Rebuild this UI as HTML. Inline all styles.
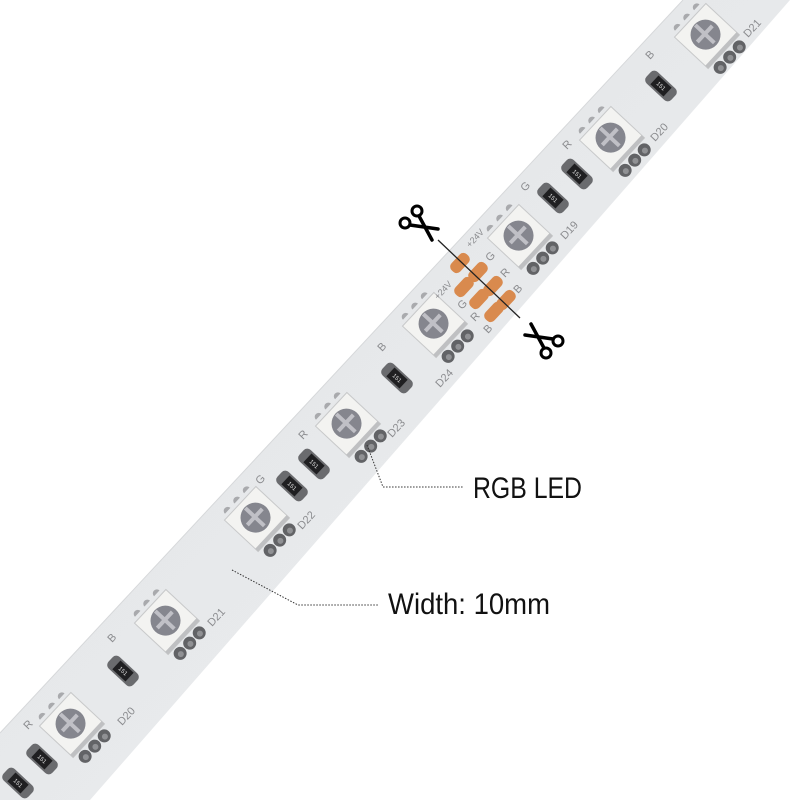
<!DOCTYPE html>
<html><head><meta charset="utf-8"><style>
html,body{margin:0;padding:0;background:#fff;}
svg{display:block;}
text{font-family:"Liberation Sans",sans-serif;}
</style></head><body>
<svg width="800" height="800" viewBox="0 0 800 800" xmlns="http://www.w3.org/2000/svg">
<defs>
<linearGradient id="sg" x1="0" y1="0" x2="1" y2="1">
<stop offset="0" stop-color="#e2e4e6"/><stop offset="1" stop-color="#eceef0"/>
</linearGradient>
<g id="led">
  <rect x="-23" y="-23" width="46" height="46" fill="#f3f3f1" stroke="#c8c9ca" stroke-width="1"/>
  <rect x="-23" y="19" width="46" height="4" fill="#bfc0c2"/>
  <circle cx="0" cy="-2" r="15" fill="#85868e"/>
  <rect x="-11" y="-5" width="22" height="4" fill="#c0c0c6"/>
  <rect x="-2" y="-16" width="4" height="26" fill="#c0c0c6"/>
  <circle cx="-14" cy="31" r="6.5" fill="#626366"/>
  <circle cx="0" cy="31" r="6.5" fill="#626366"/>
  <circle cx="14" cy="31" r="6.5" fill="#626366"/>
  <circle cx="-14" cy="32" r="3" fill="#909194"/>
  <circle cx="0" cy="32" r="3" fill="#909194"/>
  <circle cx="14" cy="32" r="3" fill="#909194"/>
  <path d="M-18,-27 a4,4 0 0 1 8,0 z M-4,-27 a4,4 0 0 1 8,0 z M10,-27 a4,4 0 0 1 8,0 z" fill="#a9aaad"/>
</g>
<g id="res">
  <rect x="-8" y="-17" width="16" height="34" rx="5" fill="#6a6b6e"/>
  <rect x="-6" y="-9" width="12" height="18" fill="#1f1f21"/>
  <text x="0" y="0" font-size="6" fill="#ddd" text-anchor="middle" transform="rotate(90) translate(0,2)">151</text>
</g>
<g id="sc" stroke="#000" fill="none">
  <circle cx="-3" cy="-13" r="5" stroke-width="3"/>
  <circle cx="-15" cy="-1" r="5" stroke-width="3"/>
  <path d="M-1,-8 L12,16" stroke-width="3.5" stroke-linecap="round"/>
  <path d="M-10,1 L18,5" stroke-width="3.5" stroke-linecap="round"/>
</g>
</defs>

<polygon points="683,0 790,0 90,800 0,800 0,733" fill="url(#sg)"/>
<line x1="683" y1="0" x2="0" y2="733" stroke="#d6d8da" stroke-width="1"/>

<!-- LEDs -->
<g transform="translate(707,36) rotate(-47)"><use href="#led"/></g>
<g transform="translate(612,139) rotate(-47)"><use href="#led"/></g>
<g transform="translate(520,237) rotate(-47)"><use href="#led"/></g>
<g transform="translate(435,325) rotate(-47)"><use href="#led"/></g>
<g transform="translate(348,425) rotate(-47)"><use href="#led"/></g>
<g transform="translate(257,519) rotate(-47)"><use href="#led"/></g>
<g transform="translate(167,622) rotate(-47)"><use href="#led"/></g>
<g transform="translate(72,725) rotate(-47)"><use href="#led"/></g>

<!-- resistors -->
<g transform="translate(661,86) rotate(-47)"><use href="#res"/></g>
<g transform="translate(577,174) rotate(-47)"><use href="#res"/></g>
<g transform="translate(553,198) rotate(-47)"><use href="#res"/></g>
<g transform="translate(397,378) rotate(-47)"><use href="#res"/></g>
<g transform="translate(314,464) rotate(-47)"><use href="#res"/></g>
<g transform="translate(292,486) rotate(-47)"><use href="#res"/></g>
<g transform="translate(123,671) rotate(-47)"><use href="#res"/></g>
<g transform="translate(42,759) rotate(-47)"><use href="#res"/></g>
<g transform="translate(18,783) rotate(-47)"><use href="#res"/></g>

<!-- labels on strip -->
<g font-size="11" fill="#8a8b8e">
<text transform="translate(748,38) rotate(-47)">D21</text>
<text transform="translate(655,142) rotate(-47)">D20</text>
<text transform="translate(565,240) rotate(-47)">D19</text>
<text transform="translate(440,388) rotate(-47)">D24</text>
<text transform="translate(392,438) rotate(-47)">D23</text>
<text transform="translate(302,530) rotate(-47)">D22</text>
<text transform="translate(212,627) rotate(-47)">D21</text>
<text transform="translate(122,726) rotate(-47)">D20</text>
<text transform="translate(650,60) rotate(-47)">B</text>
<text transform="translate(567,150) rotate(-47)">R</text>
<text transform="translate(525,192) rotate(-47)">G</text>
<text transform="translate(382,352) rotate(-47)">B</text>
<text transform="translate(303,440) rotate(-47)">R</text>
<text transform="translate(260,485) rotate(-47)">G</text>
<text transform="translate(112,643) rotate(-47)">B</text>
<text transform="translate(28,730) rotate(-47)">R</text>
<text transform="translate(470,248) rotate(-47)" font-size="9">+24V</text>
<text transform="translate(438,300) rotate(-47)" font-size="9">+24V</text>
<text transform="translate(490,262) rotate(-47)">G</text>
<text transform="translate(505,278) rotate(-47)">R</text>
<text transform="translate(518,294) rotate(-47)">B</text>
<text transform="translate(462,310) rotate(-47)">G</text>
<text transform="translate(475,322) rotate(-47)">R</text>
<text transform="translate(488,334) rotate(-47)">B</text>
</g>

<!-- orange pads -->
<g fill="#d98a4e">
<rect x="-11" y="-6" width="22" height="12" rx="5" transform="translate(460,263) rotate(-47)"/>
<rect x="-11" y="-6" width="22" height="12" rx="5" transform="translate(478,272) rotate(-47)"/>
<rect x="-11" y="-6" width="22" height="12" rx="5" transform="translate(493,286) rotate(-47)"/>
<rect x="-11" y="-6" width="22" height="12" rx="5" transform="translate(506,300) rotate(-47)"/>
<rect x="-11" y="-6" width="22" height="12" rx="5" transform="translate(464,287) rotate(-47)"/>
<rect x="-11" y="-6" width="22" height="12" rx="5" transform="translate(479,299) rotate(-47)"/>
<rect x="-11" y="-6" width="22" height="12" rx="5" transform="translate(494,312) rotate(-47)"/>
</g>

<!-- cut line -->
<line x1="438" y1="240" x2="520" y2="318" stroke="#222" stroke-width="1.3"/>

<!-- scissors -->
<g transform="translate(420,224)"><use href="#sc"/></g>
<g transform="translate(543,340) rotate(180)"><use href="#sc"/></g>

<!-- leaders -->
<polyline points="367,445 383,487 463,487" fill="none" stroke="#333" stroke-width="1" stroke-dasharray="1.5,1.5"/>
<polyline points="232,570 298,605 378,605" fill="none" stroke="#333" stroke-width="1" stroke-dasharray="1.5,1.5"/>
<text x="473" y="498" font-size="30" fill="#111" textLength="109" lengthAdjust="spacingAndGlyphs">RGB LED</text>
<text x="388" y="614" font-size="30" fill="#111" textLength="162" lengthAdjust="spacingAndGlyphs">Width: 10mm</text>
</svg>
</body></html>
